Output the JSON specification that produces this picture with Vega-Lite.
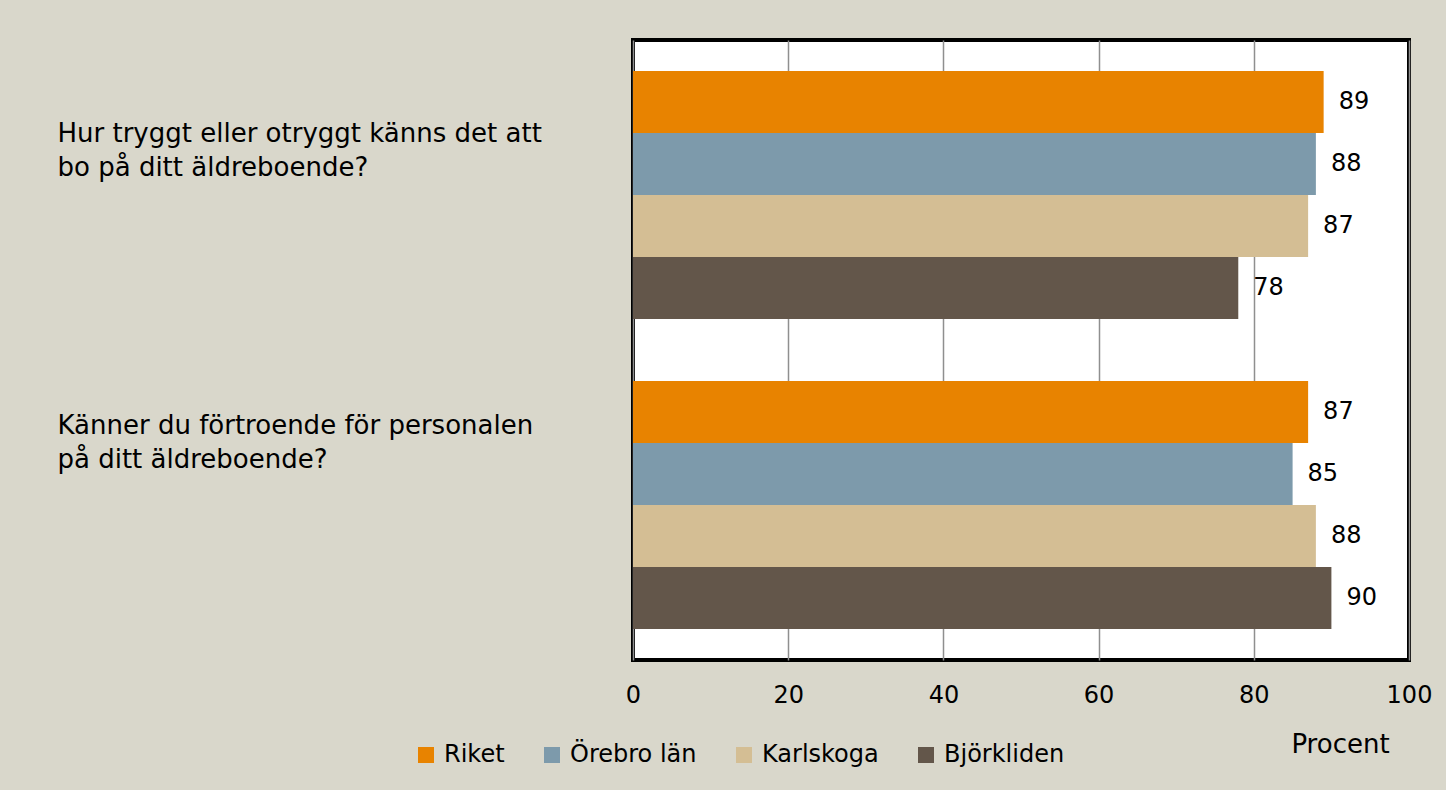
{
  "$schema": "https://vega.github.io/schema/vega-lite/v6.json",
  "autosize": {"type": "none"},
  "width": 776,
  "height": 620,
  "padding": {"left": 633, "top": 40, "right": 37, "bottom": 130},
  "background": "#D9D7CB",
  "config": {
    "font": "DejaVu Sans",
    "view": {"stroke": "#000000", "strokeWidth": 4, "fill": "#FFFFFF"},
    "axis": {"labelColor": "#000000", "titleColor": "#000000", "labelFont": "DejaVu Sans", "titleFont": "DejaVu Sans"}
  },
  "data": {
    "values": [
      {"question": "Hur tryggt eller otryggt känns det att|bo på ditt äldreboende?", "area": "Riket", "percent": 89},
      {"question": "Hur tryggt eller otryggt känns det att|bo på ditt äldreboende?", "area": "Örebro län", "percent": 88},
      {"question": "Hur tryggt eller otryggt känns det att|bo på ditt äldreboende?", "area": "Karlskoga", "percent": 87},
      {"question": "Hur tryggt eller otryggt känns det att|bo på ditt äldreboende?", "area": "Björkliden", "percent": 78},
      {"question": "Känner du förtroende för personalen|på ditt äldreboende?", "area": "Riket", "percent": 87},
      {"question": "Känner du förtroende för personalen|på ditt äldreboende?", "area": "Örebro län", "percent": 85},
      {"question": "Känner du förtroende för personalen|på ditt äldreboende?", "area": "Karlskoga", "percent": 88},
      {"question": "Känner du förtroende för personalen|på ditt äldreboende?", "area": "Björkliden", "percent": 90}
    ]
  },
  "encoding": {
    "y": {
      "field": "question",
      "type": "nominal",
      "sort": null,
      "scale": {"paddingInner": 0.2, "paddingOuter": 0.1},
      "axis": {
        "title": null,
        "domain": false,
        "ticks": false,
        "tickSize": 0,
        "labelAlign": "left",
        "labelBaseline": "middle",
        "labelPadding": 576,
        "labelFontSize": 26,
        "labelLineHeight": 34,
        "labelLimit": 0,
        "labelExpr": "split(datum.label, '|')",
        "labelOffset": {"condition": {"test": "indexof(datum.value, 'Hur') == 0", "value": -61}, "value": -79}
      }
    },
    "yOffset": {
      "field": "area",
      "type": "nominal",
      "sort": ["Riket", "Örebro län", "Karlskoga", "Björkliden"],
      "scale": {"paddingInner": 0, "paddingOuter": 0}
    },
    "x": {
      "field": "percent",
      "type": "quantitative",
      "scale": {"domain": [0, 100]},
      "axis": {
        "values": [0, 20, 40, 60, 80, 100],
        "title": "Procent",
        "titleFontSize": 26,
        "titleFontWeight": "normal",
        "titleX": 707,
        "titleY": 84,
        "titleAlign": "center",
        "titleBaseline": "middle",
        "domain": false,
        "ticks": false,
        "tickSize": 0,
        "labelFontSize": 24,
        "labelFlush": false,
        "labelOverlap": false,
        "labelBaseline": "middle",
        "labelPadding": 35,
        "grid": true,
        "gridColor": "#8F8F8F",
        "gridWidth": 1.5
      }
    }
  },
  "layer": [
    {
      "mark": {"type": "bar"},
      "encoding": {
        "color": {
          "field": "area",
          "type": "nominal",
          "sort": ["Riket", "Örebro län", "Karlskoga", "Björkliden"],
          "scale": {"domain": ["Riket", "Örebro län", "Karlskoga", "Björkliden"], "range": ["#E88300", "#7D9AAB", "#D4BE94", "#63564A"]},
          "legend": {
            "title": null,
            "orient": "none",
            "direction": "horizontal",
            "legendX": -219,
            "legendY": 703,
            "symbolType": "square",
            "symbolSize": 256,
            "symbolStrokeWidth": 0,
            "labelFontSize": 24,
            "labelFont": "DejaVu Sans",
            "labelColor": "#000000",
            "labelOffset": 6,
            "columnPadding": 35,
            "padding": 0
          }
        }
      }
    },
    {
      "mark": {"type": "text", "align": "left", "baseline": "middle", "dx": 15, "fontSize": 24, "color": "#000000"},
      "encoding": {
        "text": {"field": "percent", "type": "quantitative", "format": ".0f"}
      }
    }
  ]
}
